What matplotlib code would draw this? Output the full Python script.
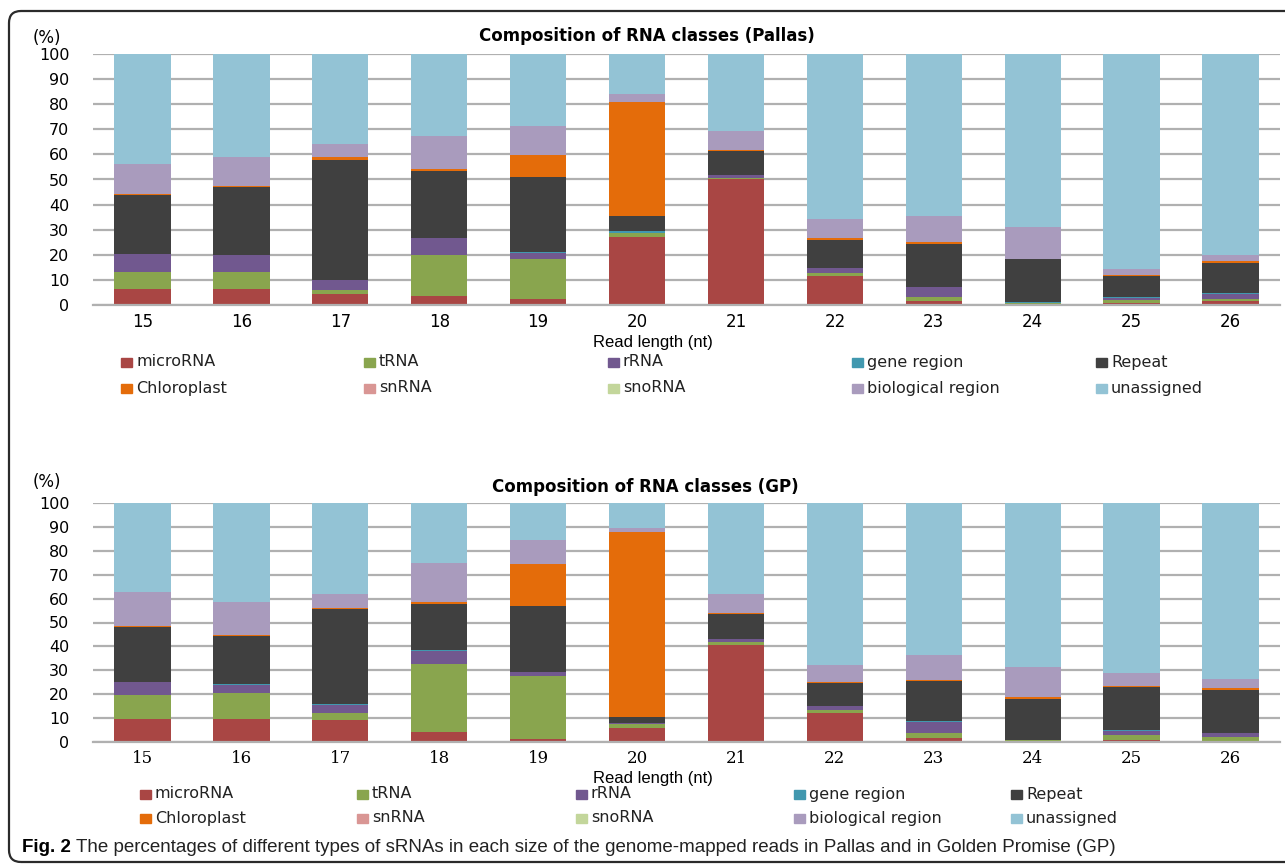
import matplotlib
matplotlib.use("Agg")
import matplotlib.pyplot as plt
import numpy as np
from matplotlib.patches import FancyBboxPatch, Rectangle
from matplotlib.transforms import IdentityTransform

# read lengths (nt)
lengths = ['15', '16', '17', '18', '19', '20', '21', '22', '23', '24', '25', '26']

classes = ['microRNA', 'tRNA', 'rRNA', 'gene region', 'Repeat',
           'Chloroplast', 'snRNA', 'snoRNA', 'biological region', 'unassigned']
colors = ['#A94644', '#89A54E', '#71588F', '#4198AF', '#404040',
          '#E46C0A', '#D99694', '#C3D69B', '#A99BBD', '#93C3D5']

# Pallas (%)
pallas_microRNA = [6.5, 6.5, 4.4, 3.4, 2.4, 27.0, 50.3, 11.4, 1.5, 0.3, 0.9, 1.5]
pallas_tRNA = [6.6, 6.6, 1.6, 16.6, 16.1, 1.7, 0.1, 1.2, 1.7, 0.5, 1.1, 0.9]
pallas_rRNA = [7.1, 6.7, 3.9, 6.7, 2.4, 0.1, 1.2, 2.0, 3.9, 0.1, 0.8, 2.1]
pallas_gene = [0.1, 0.1, 0.1, 0.1, 0.1, 0.7, 0.0, 0.1, 0.1, 0.1, 0.5, 0.4]
pallas_repeat = [23.5, 27.1, 47.9, 26.4, 29.9, 5.8, 9.6, 11.0, 17.3, 17.2, 8.1, 11.8]
pallas_chloroplast = [0.4, 0.6, 1.0, 1.0, 8.9, 45.4, 0.7, 1.0, 0.6, 0.1, 0.4, 0.8]
pallas_snRNA = [0.0] * 12
pallas_snoRNA = [0.0] * 12
pallas_bio = [12.1, 11.5, 5.4, 13.3, 11.6, 3.2, 7.4, 7.7, 10.2, 12.6, 2.5, 2.3]
pallas_unassigned = [43.7, 40.9, 35.7, 32.5, 28.6, 16.1, 30.7, 65.6, 64.7, 69.1, 85.7, 80.2]

# Golden Promise (%)
gp_microRNA = [9.5, 9.7, 9.1, 4.2, 1.3, 6.0, 40.4, 12.3, 1.8, 0.4, 0.8, 0.6]
gp_tRNA = [10.3, 10.6, 2.9, 28.4, 26.4, 1.7, 1.5, 1.2, 2.0, 0.3, 2.0, 1.5]
gp_rRNA = [5.3, 3.7, 3.5, 5.6, 1.4, 0.1, 1.3, 1.5, 4.7, 0.1, 1.9, 1.5]
gp_gene = [0.1, 0.4, 0.4, 0.4, 0.1, 0.1, 0.1, 0.1, 0.1, 0.1, 0.3, 0.3]
gp_repeat = [22.9, 19.8, 39.8, 19.1, 27.7, 2.4, 10.3, 9.4, 17.0, 17.3, 18.0, 17.7]
gp_chloroplast = [0.5, 0.5, 0.4, 0.8, 17.6, 77.6, 0.3, 0.4, 0.5, 0.6, 0.4, 1.1]
gp_snRNA = [0.0] * 12
gp_snoRNA = [0.0] * 12
gp_bio = [14.2, 13.7, 6.0, 16.6, 10.1, 1.8, 8.1, 7.4, 10.5, 12.4, 5.3, 3.5]
gp_unassigned = [37.2, 41.6, 37.9, 24.9, 15.4, 10.3, 38.0, 67.7, 63.4, 68.8, 71.3, 73.8]

pallas = [pallas_microRNA, pallas_tRNA, pallas_rRNA, pallas_gene, pallas_repeat,
          pallas_chloroplast, pallas_snRNA, pallas_snoRNA, pallas_bio, pallas_unassigned]
gp = [gp_microRNA, gp_tRNA, gp_rRNA, gp_gene, gp_repeat,
      gp_chloroplast, gp_snRNA, gp_snoRNA, gp_bio, gp_unassigned]

W, H = 1285, 866
fig = plt.figure(figsize=(W / 100, H / 100), dpi=100)


def px(x, y):
    # pixel position from top-left -> figure fraction
    return x / W, 1 - y / H


def stacked(ax, series, tick_family):
    x = np.arange(len(lengths))
    bottom = np.zeros(len(lengths))
    for vals, c in zip(series, colors):
        vals = np.array(vals)
        ax.bar(x, vals, 0.57, bottom=bottom, color=c, linewidth=0)
        bottom += vals
    ax.set_xlim(-0.5, len(lengths) - 0.5)
    ax.set_ylim(0, 100)
    ax.set_yticks(range(0, 101, 10))
    ax.set_xticks(x)
    ax.set_xticklabels(lengths, fontsize=12, family=tick_family)
    ax.tick_params(axis='y', length=0, pad=17, labelsize=11.5)
    ax.tick_params(axis='x', length=0, pad=6)
    ax.yaxis.grid(True, color='#B0B0B0', linewidth=1.6)
    ax.set_axisbelow(True)
    for s in ['top', 'right', 'left']:
        ax.spines[s].set_visible(False)
    ax.spines['bottom'].set_color('#B0B0B0')
    ax.spines['bottom'].set_linewidth(1.6)


def legend_rows(cols_x, row_y):
    for i, (name, c) in enumerate(zip(classes, colors)):
        cx = cols_x[i % 5]
        cy = row_y[i // 5]
        fx, fy = px(cx, cy + 4.5)
        fig.patches.append(Rectangle((fx, fy), 11 / W, 9 / H, color=c,
                                     transform=fig.transFigure, figure=fig))
        tx, ty = px(cx + 15, cy)
        fig.text(tx, ty, name, fontsize=11.5, va='center', ha='left', color='#222222')


# top chart: Pallas
ax1 = fig.add_axes([93 / W, 1 - 305 / H, 1187 / W, 251 / H])
stacked(ax1, pallas, 'DejaVu Sans')
fig.text(*px(647, 36), 'Composition of RNA classes (Pallas)', fontsize=12,
         weight='bold', ha='center', va='center')
fig.text(*px(47, 38), '(%)', fontsize=12, ha='center', va='center')
fig.text(*px(653, 342), 'Read length (nt)', fontsize=12, ha='center', va='center',
         family=['Liberation Sans', 'DejaVu Sans'])
legend_rows([121, 364, 608, 852, 1096], [362, 388])

# bottom chart: Golden Promise
ax2 = fig.add_axes([93 / W, 1 - 742 / H, 1187 / W, 239 / H])
stacked(ax2, gp, 'DejaVu Serif')
fig.text(*px(645, 487), 'Composition of RNA classes (GP)', fontsize=12,
         weight='bold', ha='center', va='center')
fig.text(*px(47, 482), '(%)', fontsize=12, ha='center', va='center')
fig.text(*px(653, 778), 'Read length (nt)', fontsize=12, ha='center', va='center',
         family=['Liberation Sans', 'DejaVu Sans'])
legend_rows([140, 357, 576, 794, 1011], [794, 818])

# caption
cap_family = ['Liberation Sans Narrow', 'Liberation Sans', 'DejaVu Sans']
cap1 = fig.text(*px(22, 848), 'Fig. 2', fontsize=13.5, weight='bold', va='center',
                family=cap_family)
fig.canvas.draw()
bb = cap1.get_window_extent()
fig.text((bb.x1 + 5) / W, 1 - 848 / H,
         'The percentages of different types of sRNAs in each size of the genome-mapped '
         'reads in Pallas and in Golden Promise (GP)',
         fontsize=13.5, va='center', color='#222222', family=cap_family)

# frame around the figure panel
frame = FancyBboxPatch((9, 4), 1320, 851, boxstyle='round,pad=0,rounding_size=12',
                       transform=IdentityTransform(), fill=False,
                       edgecolor='#2b2b2b', linewidth=1.6)
fig.patches.append(frame)

fig.savefig('out.png', dpi=100)
